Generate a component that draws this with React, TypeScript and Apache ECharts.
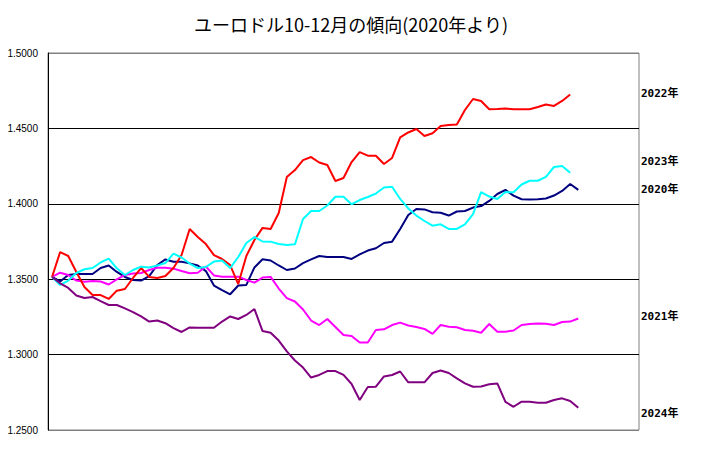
import React, { useEffect, useRef } from "react";
import * as echarts from "echarts";

const title = "ユーロドル10-12月の傾向(2020年より)";
const yTicks = [1.25, 1.3, 1.35, 1.4, 1.45, 1.5];
const dayCount = 73;
const days: string[] = Array.from({ length: dayCount }, (_, i) => String(i + 1));

const y2020 = [1.3515,1.3485,1.3528,1.3534,1.3534,1.3534,1.3574,1.3591,1.3548,1.3515,1.3495,1.3491,1.3521,1.3594,1.3631,1.3616,1.3616,1.3605,1.3591,1.3554,1.3458,1.3428,1.3400,1.3458,1.3462,1.3578,1.3632,1.3624,1.3591,1.3561,1.3571,1.3607,1.3631,1.3654,1.3647,1.3647,1.3647,1.3634,1.3664,1.3690,1.3705,1.3740,1.3749,1.3833,1.3926,1.3966,1.3963,1.3944,1.3941,1.3922,1.3949,1.3952,1.3975,1.3985,1.4019,1.4065,1.4092,1.4054,1.4030,1.4029,1.4030,1.4035,1.4055,1.4085,1.4131,1.4092];
const y2021 = [1.3515,1.3543,1.3528,1.3491,1.3483,1.3488,1.3485,1.3465,1.3499,1.3528,1.3538,1.3541,1.3561,1.3576,1.3576,1.3570,1.3554,1.3539,1.3543,1.3584,1.3525,1.3517,1.3517,1.3517,1.3495,1.3477,1.3511,1.3515,1.3438,1.3375,1.3352,1.3299,1.3226,1.3196,1.3236,1.3183,1.3130,1.3123,1.3080,1.3080,1.3163,1.3168,1.3196,1.3212,1.3193,1.3183,1.3170,1.3137,1.3196,1.3185,1.3181,1.3163,1.3158,1.3145,1.3203,1.3152,1.3152,1.3160,1.3196,1.3203,1.3206,1.3204,1.3196,1.3216,1.3219,1.3239];
const y2022 = [1.3515,1.3680,1.3654,1.3548,1.3448,1.3395,1.3395,1.3369,1.3424,1.3435,1.3508,1.3574,1.3515,1.3508,1.3521,1.3574,1.3660,1.3833,1.3780,1.3733,1.3660,1.3634,1.3594,1.3468,1.3654,1.3760,1.3840,1.3833,1.3939,1.4178,1.4224,1.4290,1.4310,1.4274,1.4257,1.4151,1.4171,1.4277,1.4343,1.4319,1.4319,1.4264,1.4304,1.4440,1.4473,1.4496,1.4450,1.4468,1.4516,1.4523,1.4526,1.4622,1.4695,1.4682,1.4627,1.4629,1.4632,1.4627,1.4627,1.4627,1.4642,1.4658,1.4649,1.4682,1.4725];
const y2023 = [1.3515,1.3462,1.3491,1.3541,1.3566,1.3574,1.3611,1.3637,1.3572,1.3528,1.3561,1.3583,1.3578,1.3591,1.3607,1.3670,1.3644,1.3604,1.3574,1.3581,1.3617,1.3624,1.3574,1.3647,1.3740,1.3780,1.3750,1.3749,1.3733,1.3727,1.3731,1.3899,1.3952,1.3952,1.3989,1.4047,1.4047,1.3997,1.4025,1.4045,1.4068,1.4108,1.4113,1.4032,1.3969,1.3922,1.3886,1.3855,1.3864,1.3833,1.3833,1.3864,1.3932,1.4078,1.4048,1.4032,1.4078,1.4076,1.4128,1.4153,1.4153,1.4178,1.4244,1.4251,1.4206];
const y2024 = [1.3515,1.3473,1.3442,1.3392,1.3375,1.3382,1.3355,1.3329,1.3329,1.3306,1.3282,1.3253,1.3219,1.3226,1.3208,1.3176,1.3150,1.3180,1.3178,1.3178,1.3178,1.3219,1.3253,1.3236,1.3263,1.3302,1.3156,1.3145,1.3093,1.3021,1.2961,1.2914,1.2848,1.2865,1.2891,1.2891,1.2865,1.2805,1.2699,1.2785,1.2787,1.2855,1.2865,1.2888,1.2816,1.2816,1.2816,1.2878,1.2895,1.2878,1.2842,1.2809,1.2787,1.2788,1.2803,1.2809,1.2686,1.2654,1.2688,1.2688,1.2681,1.2681,1.2699,1.2710,1.2692,1.2647];

const seriesList = [
  { name: "2020年", data: y2020, color: "#000080" },
  { name: "2021年", data: y2021, color: "#FF00FF" },
  { name: "2022年", data: y2022, color: "#FF0000" },
  { name: "2023年", data: y2023, color: "#00FFFF" },
  { name: "2024年", data: y2024, color: "#800080" },
];

const sideLabels = [
  { text: "2022年", y: 93 },
  { text: "2023年", y: 161 },
  { text: "2020年", y: 189 },
  { text: "2021年", y: 316 },
  { text: "2024年", y: 413 },
];

export default function App() {
  const ref = useRef<HTMLDivElement>(null);
  useEffect(() => {
    if (!ref.current) return;
    const chart = echarts.init(ref.current, null, { renderer: "svg" });
    chart.setOption({
      animation: false,
      backgroundColor: "#ffffff",
      title: {
        text: title,
        left: "center",
        top: 10,
        textStyle: {
          fontFamily: "Noto Sans CJK JP",
          fontSize: 18,
          fontWeight: "normal",
          color: "#000",
        },
      },
      grid: {
        left: 48,
        right: 63,
        top: 53,
        bottom: 20,
        show: true,
        borderColor: "#808080",
        borderWidth: 1,
        backgroundColor: "#ffffff",
      },
      xAxis: {
        type: "category",
        data: days,
        boundaryGap: true,
        axisLine: { show: false },
        axisTick: { show: false },
        axisLabel: { show: false },
        splitLine: { show: false },
      },
      yAxis: {
        type: "value",
        min: yTicks[0],
        max: yTicks[yTicks.length - 1],
        interval: 0.05,
        axisLine: { show: true, lineStyle: { color: "#000", width: 1 } },
        axisTick: { show: false },
        axisLabel: {
          color: "#000",
          fontSize: 10,
          fontFamily: "Liberation Sans",
          margin: 10,
          formatter: (v: number) => v.toFixed(4),
        },
        splitLine: {
          show: true,
          lineStyle: {
            color: ["#808080", "#000", "#000", "#000", "#000", "#808080"],
            width: 1,
          },
        },
      },
      series: seriesList.map((s) => ({
        name: s.name,
        type: "line",
        data: s.data,
        symbol: "none",
        showSymbol: false,
        lineStyle: { color: s.color, width: 2 },
        itemStyle: { color: s.color },
      })),
      graphic: sideLabels.map((l) => ({
        type: "text",
        left: 641,
        top: l.y - 5,
        style: {
          text: l.text,
          fill: "#000",
          font: "bold 11px 'DejaVu Sans Mono', 'Noto Sans CJK JP'",
        },
      })),
    });
    return () => chart.dispose();
  }, []);
  return (
    <div
      ref={ref}
      style={{ position: "fixed", left: 0, top: 0, width: 702, height: 450 }}
    />
  );
}
